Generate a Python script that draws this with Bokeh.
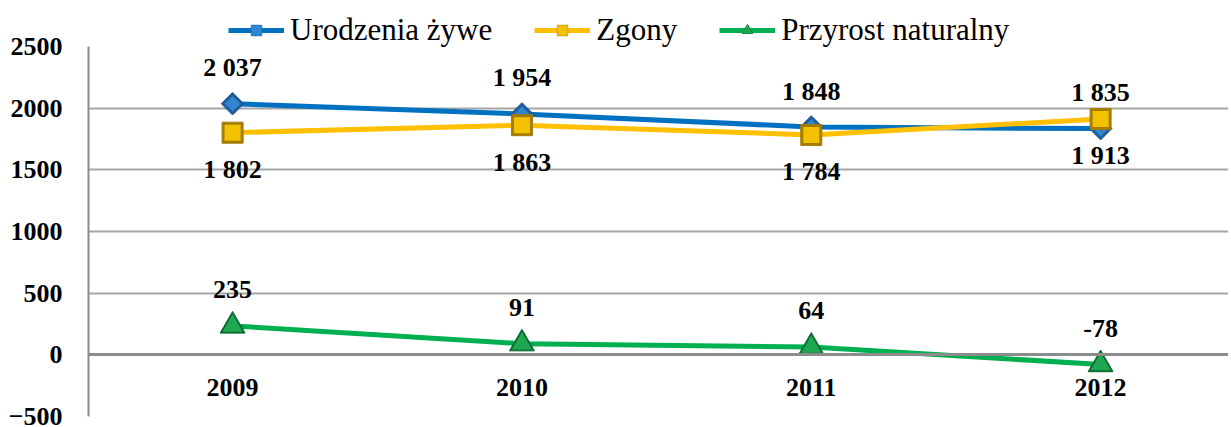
from bokeh.plotting import figure
from bokeh.models import FixedTicker, Legend, LegendItem, ColumnDataSource
from bokeh.core.properties import value
from bokeh.embed import file_html
from bokeh.resources import INLINE

years = ["2009", "2010", "2011", "2012"]
urodzenia = [2037, 1954, 1848, 1835]
zgony = [1802, 1863, 1784, 1913]
przyrost = [235, 91, 64, -78]
y_ticks = [-500, 0, 500, 1000, 1500, 2000, 2500]
grid_ticks = [500, 1000, 1500, 2000]

names = ["Urodzenia żywe", "Zgony", "Przyrost naturalny"]
xs = list(range(len(years)))

SERIF = value("Liberation Serif")


def fmt(v):
    return f"{v:,}".replace(",", " ")


p = figure(width=1228, height=427, x_range=(-0.498, 3.442), y_range=(-589, 2874),
           output_backend="svg", toolbar_location=None,
           min_border_left=88, min_border_right=0, min_border_top=0, min_border_bottom=0)
p.outline_line_color = None
p.background_fill_color = "white"
p.border_fill_color = "white"

p.xgrid.visible = False
p.ygrid.ticker = FixedTicker(ticks=grid_ticks)
p.ygrid.grid_line_color = "#a6a6a6"
p.ygrid.grid_line_width = 2

p.yaxis.ticker = FixedTicker(ticks=y_ticks)
p.yaxis.bounds = (-500, 2500)
p.yaxis.axis_line_color = "#8c8c8c"
p.yaxis.axis_line_width = 2
p.yaxis.major_tick_line_color = None
p.yaxis.minor_tick_line_color = None
p.yaxis.major_label_text_font = "Liberation Serif"
p.yaxis.major_label_text_font_style = "bold"
p.yaxis.major_label_text_font_size = "26px"
p.yaxis.major_label_text_color = "black"
p.yaxis.major_label_standoff = 20

p.xaxis.fixed_location = 0
p.xaxis.ticker = FixedTicker(ticks=xs)
p.xaxis.major_label_overrides = {i: y for i, y in enumerate(years)}
p.xaxis.axis_line_color = "#8c8c8c"
p.xaxis.axis_line_width = 3
p.xaxis.major_tick_line_color = None
p.xaxis.minor_tick_line_color = None
p.xaxis.major_label_text_font = "Liberation Serif"
p.xaxis.major_label_text_font_style = "bold"
p.xaxis.major_label_text_font_size = "26px"
p.xaxis.major_label_text_color = "black"
p.xaxis.major_label_standoff = 18

series = [
    (urodzenia, "#0070C0", "#1F5C99", "#2E86D1", "square", 16, 0.785398, -36),
    (zgony, "#FFC000", "#A67C00", "#F2C200", "square", 21, 0.0, 37),
    (przyrost, "#00B050", "#0A6B30", "#1FA852", "triangle", 25, 0.0, -36),
]

items = []
for (vals, lc, dark, light, marker, size, ang, off), name in zip(series, names):
    src = ColumnDataSource(dict(x=xs, y=vals, lab=[fmt(v) for v in vals]))
    ln = p.line("x", "y", source=src, line_color=lc, line_width=5)
    s1 = p.scatter("x", "y", source=src, marker=marker, size=size, angle=ang,
                   fill_color=dark, line_color=dark, line_width=1)
    s2 = p.scatter("x", "y", source=src, marker=marker, size=size - 5, angle=ang,
                   fill_color=light, line_color=None)
    p.text("x", "y", text="lab", source=src, text_font=SERIF, text_font_style="bold",
           text_font_size="26px", text_align="center", text_baseline="middle",
           y_offset=off, text_color="black")
    items.append(LegendItem(label=name, renderers=[ln, s1, s2]))

legend = Legend(items=items, orientation="horizontal", location=(140, 379),
                label_text_font="Liberation Serif", label_text_font_size="31px",
                label_text_color="black", glyph_width=56, glyph_height=26,
                label_standoff=6, spacing=42, padding=0, margin=0,
                border_line_color=None, background_fill_alpha=0)
p.add_layout(legend)

open("out.html", "w").write(file_html(p, INLINE))
